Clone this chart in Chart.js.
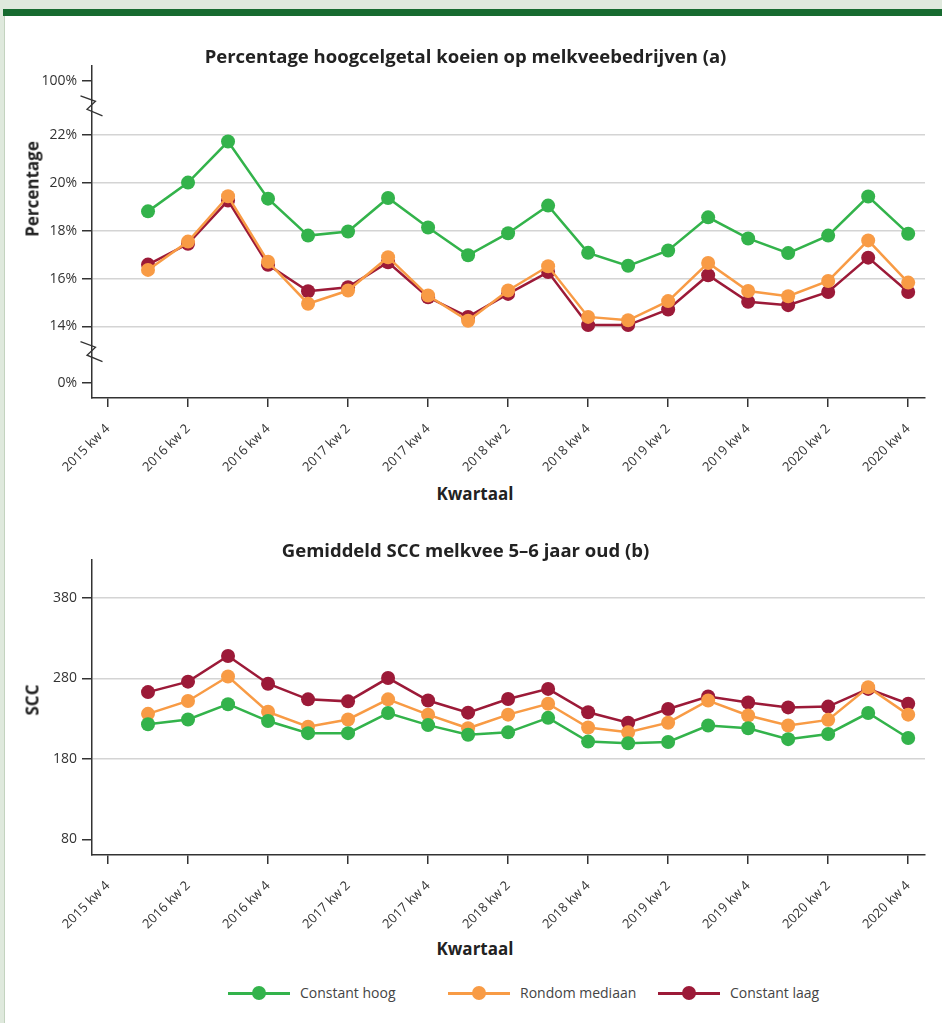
<!DOCTYPE html>
<html>
<head>
<meta charset="utf-8">
<script src="https://cdn.jsdelivr.net/npm/chart.js@4.4.1/dist/chart.umd.min.js"></script>
<style>
  body { margin: 0; width: 942px; height: 1023px; overflow: hidden; background: #dfe9dd; font-family: "Open Sans", sans-serif; }
  #bar { position: absolute; left: 3px; top: 9px; right: 0; height: 7px; background: #176b30; }
  #panel { position: absolute; left: 4px; top: 16px; width: 938px; height: 1007px; background: #fff; border-left: 1px solid #c3d3bf; }
  canvas { position: absolute; }
  .axt { position: absolute; font-weight: bold; font-size: 17px; color: #222; white-space: nowrap; transform: translate(-50%, -50%); }
  .rot { transform: translate(-50%, -50%) rotate(-90deg); }
  .leg { position: absolute; top: 982px; height: 22px; font-size: 14px; color: #444; }
  .leg .ln { position: absolute; left: 0; top: 10px; width: 62px; height: 2.5px; }
  .leg .dot { position: absolute; left: 24px; top: 4px; width: 14px; height: 14px; border-radius: 50%; }
  .leg span { position: absolute; left: 72px; top: 1px; white-space: nowrap; }
</style>
</head>
<body>
<div id="bar"></div>
<div id="panel"></div>
<canvas id="pctChart" width="936" height="450" style="left:6px; top:30px;"></canvas>
<canvas id="sccChart" width="936" height="405" style="left:6px; top:530px;"></canvas>
<div class="axt rot" style="left:32px; top:189px;">Percentage</div>
<div class="axt" style="left:475px; top:493px;">Kwartaal</div>
<div class="axt rot" style="left:32px; top:700px;">SCC</div>
<div class="axt" style="left:475px; top:948px;">Kwartaal</div>
<div id="legend"></div>
<script>
// quarters on the x axis, data starts at 2016 kw 1
var quarters = [
    "2015 kw 4",
    "2016 kw 1", "2016 kw 2", "2016 kw 3", "2016 kw 4",
    "2017 kw 1", "2017 kw 2", "2017 kw 3", "2017 kw 4",
    "2018 kw 1", "2018 kw 2", "2018 kw 3", "2018 kw 4",
    "2019 kw 1", "2019 kw 2", "2019 kw 3", "2019 kw 4",
    "2020 kw 1", "2020 kw 2", "2020 kw 3", "2020 kw 4"
];
var seriesNames = ["Constant hoog", "Rondom mediaan", "Constant laag"];
var seriesColors = ["#33b34b", "#f89b45", "#9c1a38"];

// (a) percentage cows with high cell count
var pctHoog    = [18.80, 20.00, 21.71, 19.33, 17.79, 17.96, 19.36, 18.13, 16.97, 17.89, 19.04, 17.07, 16.53, 17.17, 18.55, 17.67, 17.06, 17.79, 19.42, 17.87];
var pctMediaan = [16.36, 17.54, 19.43, 16.70, 14.95, 15.50, 16.89, 15.29, 14.24, 15.50, 16.51, 14.40, 14.26, 15.06, 16.65, 15.48, 15.26, 15.90, 17.59, 15.83];
var pctLaag    = [16.58, 17.45, 19.25, 16.57, 15.47, 15.64, 16.68, 15.22, 14.40, 15.36, 16.27, 14.06, 14.06, 14.71, 16.14, 15.03, 14.89, 15.44, 16.87, 15.44];

// (b) average SCC of 5-6 year old cows
var sccHoog    = [223, 229, 248, 227, 212, 212, 237, 222, 210, 213, 231, 201.5, 199.5, 201, 221.5, 218, 204.5, 211, 237, 206];
var sccMediaan = [236, 252, 282.5, 238.5, 220, 229, 254, 235, 218, 235, 248.5, 219, 213, 225, 252.5, 234, 221.5, 228.5, 269, 235];
var sccLaag    = [263, 276, 308, 273.5, 254, 251.5, 280.5, 252.5, 237.5, 254.5, 267, 238, 225, 242, 257.5, 250, 244, 245, 267, 248.5];

var pctTicks = [0, 14, 16, 18, 20, 22, 100];
var pctTickLabels = ["0%", "14%", "16%", "18%", "20%", "22%", "100%"];
var sccTicks = [80, 180, 280, 380];
var xTickIndex = [0, 2, 4, 6, 8, 10, 12, 14, 16, 18, 20];

// broken axis: 0% and 100% are drawn at these axis positions
var BREAK_LOW = 11.66, BREAK_HIGH = 24.24;
function pctPos(v) {
    if (v === 0) return BREAK_LOW;
    if (v === 100) return BREAK_HIGH;
    return v;
}

var axisColor = "#333";
var gridColor = "#d4d4d4";

Chart.defaults.font.family = "Open Sans";
Chart.defaults.color = "#333";

function toPoints(values) {
    return values.map(function (v, i) { return { x: i + 1, y: v }; });
}

function makeDatasets(series) {
    return series.map(function (values, i) {
        return {
            label: seriesNames[i],
            data: toPoints(values),
            borderColor: seriesColors[i],
            backgroundColor: seriesColors[i],
            borderWidth: 2.5,
            pointRadius: 7,
            pointHoverRadius: 7,
            pointBorderWidth: 0,
            tension: 0
        };
    });
}

function xScale(height) {
    return {
        type: "linear",
        min: -0.4,
        max: 20.42,
        afterFit: function (s) { s.height = height; },
        afterBuildTicks: function (s) {
            s.ticks = xTickIndex.map(function (v) { return { value: v }; });
        },
        ticks: {
            autoSkip: false,
            minRotation: 45,
            maxRotation: 45,
            padding: 14,
            color: "#333",
            font: { size: 13 },
            callback: function (v) { return quarters[v]; }
        },
        grid: { drawOnChartArea: false, tickLength: 9, tickColor: axisColor, lineWidth: 1.5 },
        border: { color: axisColor, width: 1.5 }
    };
}

function titleOpts(text, padTop) {
    return {
        display: true,
        text: text,
        color: "#222",
        font: { size: 18.5, weight: "bold", lineHeight: "16px" },
        padding: { top: padTop, bottom: 0 }
    };
}

// zigzag marks where the percentage axis is broken
var axisBreaks = {
    id: "axisBreaks",
    afterDraw: function (chart) {
        var ctx = chart.ctx;
        var x = chart.chartArea.left;
        [23.2, 12.95].forEach(function (v) {
            var y = chart.scales.y.getPixelForValue(v);
            ctx.save();
            ctx.strokeStyle = axisColor;
            ctx.lineWidth = 1.3;
            ctx.beginPath();
            ctx.moveTo(x - 11.5, y - 10);
            ctx.lineTo(x + 3.5, y - 4.5);
            ctx.lineTo(x - 5, y + 3.5);
            ctx.lineTo(x + 10.5, y + 10);
            ctx.stroke();
            ctx.restore();
        });
    }
};

var pctChart = new Chart(document.getElementById("pctChart").getContext("2d"), {
    type: "line",
    data: { datasets: makeDatasets([pctHoog, pctMediaan, pctLaag]) },
    options: {
        responsive: false,
        devicePixelRatio: 1,
        animation: false,
        layout: { padding: { left: 0, right: 17, top: 0, bottom: 0 } },
        plugins: {
            legend: { display: false },
            tooltip: { enabled: false },
            title: titleOpts("Percentage hoogcelgetal koeien op melkveebedrijven (a)", 20)
        },
        scales: {
            x: xScale(82),
            y: {
                min: 11.02,
                max: 24.86,
                afterFit: function (s) { s.width = 86; },
                afterBuildTicks: function (s) {
                    s.ticks = pctTicks.map(function (v) { return { value: pctPos(v) }; });
                },
                ticks: {
                    autoSkip: false,
                    padding: 5,
                    color: "#333",
                    font: { size: 14 },
                    callback: function (v, i) { return pctTickLabels[i]; }
                },
                grid: {
                    color: function (c) {
                        if (c.tick && (c.tick.value === BREAK_LOW || c.tick.value === BREAK_HIGH)) return "rgba(0,0,0,0)";
                        return gridColor;
                    },
                    tickColor: axisColor,
                    tickLength: 10,
                    lineWidth: 1.5
                },
                border: { color: axisColor, width: 1.5 }
            }
        }
    },
    plugins: [axisBreaks]
});

var sccChart = new Chart(document.getElementById("sccChart").getContext("2d"), {
    type: "line",
    data: { datasets: makeDatasets([sccHoog, sccMediaan, sccLaag]) },
    options: {
        responsive: false,
        devicePixelRatio: 1,
        animation: false,
        layout: { padding: { left: 0, right: 17, top: 0, bottom: 0 } },
        plugins: {
            legend: { display: false },
            tooltip: { enabled: false },
            title: titleOpts("Gemiddeld SCC melkvee 5\u20136 jaar oud (b)", 14)
        },
        scales: {
            x: xScale(80),
            y: {
                min: 60.45,
                max: 427.3,
                afterFit: function (s) { s.width = 86; },
                afterBuildTicks: function (s) {
                    s.ticks = sccTicks.map(function (v) { return { value: v }; });
                },
                ticks: { autoSkip: false, padding: 5, color: "#333", font: { size: 14 } },
                grid: {
                    color: function (c) {
                        if (c.tick && c.tick.value === sccTicks[0]) return "rgba(0,0,0,0)";
                        return gridColor;
                    },
                    tickColor: axisColor,
                    tickLength: 10,
                    lineWidth: 1.5
                },
                border: { color: axisColor, width: 1.5 }
            }
        }
    }
});

// legend below the second chart
var legendLeft = [228, 448, 658];
var legend = document.getElementById("legend");
seriesNames.forEach(function (name, i) {
    var item = document.createElement("div");
    item.className = "leg";
    item.style.left = legendLeft[i] + "px";
    item.innerHTML = '<div class="ln" style="background:' + seriesColors[i] + '"></div>' +
        '<div class="dot" style="background:' + seriesColors[i] + '"></div>' +
        '<span>' + name + '</span>';
    legend.appendChild(item);
});
</script>
</body>
</html>
